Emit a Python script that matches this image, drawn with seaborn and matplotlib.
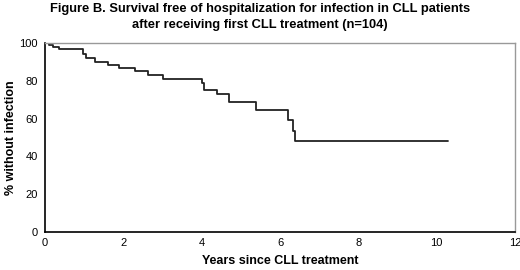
import pandas as pd
import matplotlib
matplotlib.use("Agg")
import matplotlib.pyplot as plt
import seaborn as sns

# Kaplan-Meier step points
years = [0, 0.10, 0.20, 0.35, 0.98, 1.05, 1.28, 1.62, 1.88, 2.30, 2.64, 3.02,
         4.00, 4.05, 4.38, 4.71, 5.39, 6.21, 6.32, 6.38, 10.30]
pct_free = [100, 99.0, 98.0, 96.8, 94.0, 92.0, 90.0, 88.5, 86.8, 85.4, 83.2, 81.2,
            78.7, 75.1, 73.0, 68.6, 64.4, 59.3, 53.6, 48.1, 48.1]

x_ticks = [0, 2, 4, 6, 8, 10, 12]
y_ticks = [0, 20, 40, 60, 80, 100]

df = pd.DataFrame({"years": years, "pct": pct_free})

sns.set_style("white")
plt.rcParams["font.family"] = ["Liberation Sans", "DejaVu Sans"]
plt.rcParams["text.color"] = "black"

fig, ax = plt.subplots(figsize=(5.2, 2.7), dpi=100)
fig.subplots_adjust(left=45 / 520, right=515 / 520, top=1 - 43 / 270, bottom=1 - 232 / 270)

sns.lineplot(data=df, x="years", y="pct", drawstyle="steps-post", color="#222222",
             linewidth=1.3, ax=ax)

ax.set_xlim(0, 12)
ax.set_ylim(0, 100)
ax.set_xticks(x_ticks)
ax.set_yticks(y_ticks)
ax.tick_params(axis="both", direction="out", length=3, width=1, labelsize=8, pad=2,
               colors="black", labelcolor="black")
ax.tick_params(axis="x", pad=1)
for side in ["left", "bottom"]:
    ax.spines[side].set_color("black")
    ax.spines[side].set_linewidth(1.2)
for side in ["top", "right"]:
    ax.spines[side].set_color("#999999")
    ax.spines[side].set_linewidth(1)

ax.set_xlabel("Years since CLL treatment", fontsize=9, fontweight="bold", color="black")
ax.xaxis.set_label_coords(0.5, -(255 - 232) / 189)
ax.set_ylabel("% without infection", fontsize=9, fontweight="bold", color="black")
ax.yaxis.set_label_coords(-(45 - 17) / 470, 0.5)
fig.suptitle("Figure B. Survival free of hospitalization for infection in CLL patients\n"
             "after receiving first CLL treatment (n=104)",
             fontsize=9.3, fontweight="bold", x=0.5, y=0.99, va="top", linespacing=1.45,
             color="black")

fig.savefig("out.png", dpi=100)
